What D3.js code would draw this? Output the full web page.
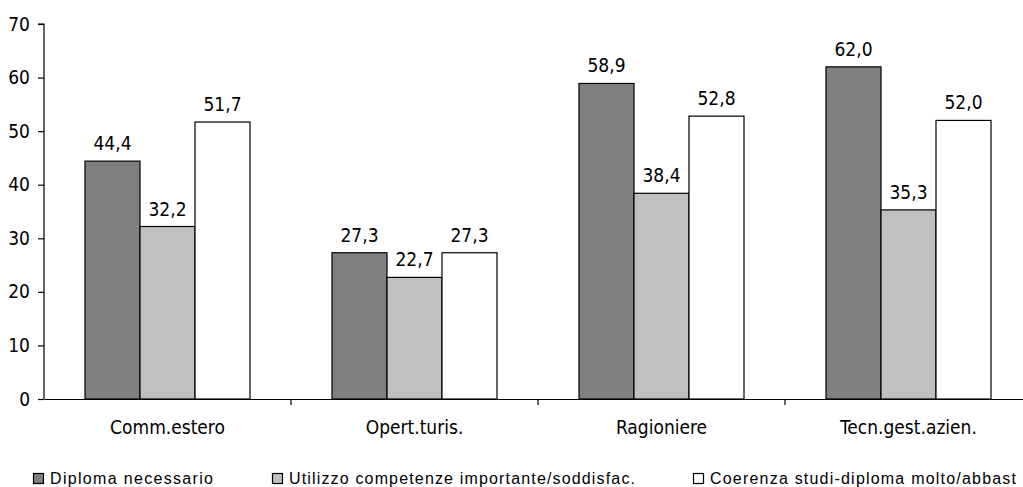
<!DOCTYPE html>
<html><head><meta charset="utf-8">
<script src="https://cdn.jsdelivr.net/npm/d3@7"></script>
<style>body{margin:0;background:#fff}svg{display:block}</style>
</head><body>
<script>
const categories = ["Comm.estero","Opert.turis.","Ragioniere","Tecn.gest.azien."];
const seriesNames = ["Diploma necessario","Utilizzo competenze importante/soddisfac.","Coerenza studi-diploma molto/abbast"];
const diplomaNecessario = [44.4,27.3,58.9,62.0];
const utilizzoCompetenze = [32.2,22.7,38.4,35.3];
const coerenzaStudi = [51.7,27.3,52.8,52.0];
const yTicks = [0,10,20,30,40,50,60,70];
const colors = ["#808080","#c0c0c0","#ffffff"];
const series = [diplomaNecessario, utilizzoCompetenze, coerenzaStudi];

const W=1023,H=487;
const svg=d3.select("body").append("svg").attr("width",W).attr("height",H);
const x0=44, bandW=247, y0=399, yTop=24;
const x=d3.scaleBand().domain(categories).range([x0,x0+bandW*4]).paddingInner(0).paddingOuter(0);
const y=d3.scaleLinear().domain([0,70]).range([y0,yTop]);
const barW=55;
const xs=d3.scaleBand().domain(d3.range(3)).range([(bandW-3*barW)/2,(bandW+3*barW)/2]);

const font="'DejaVu Sans Condensed', 'DejaVu Sans', Verdana, sans-serif";
function styleText(sel,size){
  sel.attr("font-family",font).attr("font-size",size).style("font-stretch","condensed").attr("fill","#000");
}
// y axis
const gy=svg.append("g").attr("transform",`translate(${x0},0)`)
 .call(d3.axisLeft(y).tickValues(yTicks).tickSize(6).tickPadding(8).tickFormat(d3.format("d")));
gy.select(".domain").attr("stroke","#000").attr("stroke-width",1.2).attr("d",`M-6,${yTop}H0V${y0}`);
gy.selectAll(".tick line").attr("stroke","#000").attr("stroke-width",1.2);
styleText(gy.selectAll("text"),19);

// bars
categories.forEach((c,i)=>{
  series.forEach((s,j)=>{
    const v=s[i];
    const bx=x(c)+xs(j);
    svg.append("rect").attr("x",bx).attr("y",y(v)).attr("width",barW).attr("height",y0-y(v))
      .attr("fill",colors[j]).attr("stroke","#000").attr("stroke-width",1.2);
    styleText(svg.append("text").attr("x",bx+barW/2).attr("y",y(v)-11).attr("text-anchor","middle")
      .text(d3.format(".1f")(v).replace(".",",")),19);
  });
});

// x axis
const gx=svg.append("g").attr("transform",`translate(0,${y0})`)
 .call(d3.axisBottom(x).tickSize(0).tickPadding(22));
gx.select(".domain").attr("stroke","#000").attr("stroke-width",1.2);
styleText(gx.selectAll("text"),19);
// category boundary ticks
[1,2,3].forEach(k=>{
  svg.append("line").attr("x1",x0+bandW*k).attr("x2",x0+bandW*k).attr("y1",y0).attr("y2",y0+6)
   .attr("stroke","#000").attr("stroke-width",1.2);
});

// legend
const legX=[33,272,693], legW=[163,346,306];
seriesNames.forEach((n,j)=>{
  svg.append("rect").attr("x",legX[j]+0.5).attr("y",473.5).attr("width",10).attr("height",10)
    .attr("fill",colors[j]).attr("stroke","#000").attr("stroke-width",1.2);
  svg.append("text").attr("x",legX[j]+17).attr("y",484).attr("font-family","'Liberation Sans', Arial, sans-serif")
    .attr("font-size",16).attr("fill","#000").attr("textLength",legW[j]).attr("lengthAdjust","spacing").text(n);
});
</script>
</body></html>
